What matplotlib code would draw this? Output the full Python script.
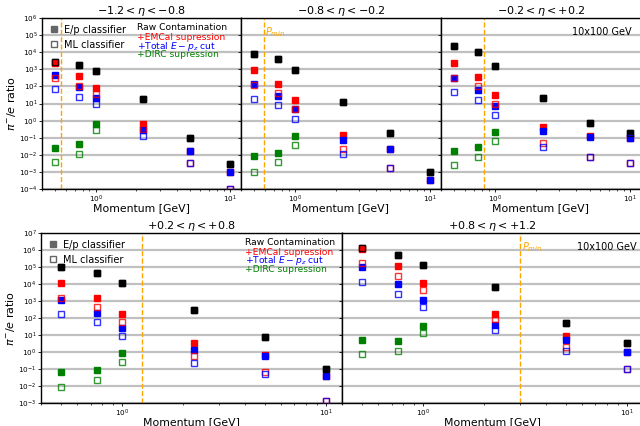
import numpy as np
import matplotlib
matplotlib.use("Agg")
import matplotlib.pyplot as plt
from matplotlib.lines import Line2D

nan = np.nan
momentum = [0.5, 0.75, 1.0, 2.25, 5.0, 10.0]

titles = [r"$-1.2 < \eta < -0.8$", r"$-0.8 < \eta < -0.2$", r"$-0.2 < \eta < +0.2$",
          r"$+0.2 < \eta < +0.8$", r"$+0.8 < \eta < +1.2$"]
p_min = [0.55, 0.59, 0.83, 1.25, 3.0]

raw = [[2800, 1900, 800, 19, 0.1, 0.0028],
       [7600, 4100, 870, 11.5, 0.195, 0.001],
       [24000, 10500, 1650, 22, 0.69, 0.2],
       [1.0e5, 4.4e4, 1.15e4, 282, 7.3, 0.1],
       [1.3e6, 5.4e5, 1.25e5, 6300, 51, 3.4]]

emcal_ep = [[2400, 400, 76, 0.66, 0.017, 0.00096],
            [870, 145, 16, 0.14, 0.0205, 3.4e-4],
            [2300, 370, 33, 0.43, 0.12, 0.095],
            [1.1e4, 1500, 178, 3.4, 0.7, 0.037],
            [1.2e6, 1.15e5, 1.15e4, 178, 8.7, 1.05]]

total_ep = [[460, 95, 22, 0.30, 0.0166, 0.00096],
            [143, 27, 4.5, 0.076, 0.0205, 3.4e-4],
            [310, 60, 7.6, 0.24, 0.11, 0.095],
            [1150, 187, 27, 1.26, 0.58, 0.037],
            [1.0e5, 1.05e4, 1200, 37, 4.9, 1.05]]

dirc_ep = [[0.026, 0.041, 0.66, nan, nan, nan],
           [0.008, 0.012, 0.12, nan, nan, nan],
           [0.017, 0.027, 0.22, nan, nan, nan],
           [0.063, 0.083, 0.83, nan, nan, nan],
           [5.4, 4.5, 35, nan, nan, nan]]

emcal_ml = [[320, 105, 34, 0.34, 0.0034, 1.05e-4],
            [115, 43, 4.8, 0.021, 0.0018, nan],
            [320, 110, 9.6, 0.049, 0.0072, 0.0032],
            [1500, 450, 56, 0.56, 0.069, 0.0014],
            [1.7e5, 2.8e4, 4600, 87, 2.1, 0.105]]

total_ml = [[69, 25, 9.1, 0.13, 0.0034, 1.05e-4],
            [19.5, 8.3, 1.3, 0.0115, 0.0018, nan],
            [47, 17, 2.1, 0.028, 0.0072, 0.0032],
            [174, 56, 8.7, 0.22, 0.053, 0.0014],
            [1.4e4, 2600, 470, 19, 1.1, 0.105]]

dirc_ml = [[0.0037, 0.0105, 0.27, nan, nan, nan],
           [0.001, 0.0036, 0.037, nan, nan, nan],
           [0.0025, 0.0073, 0.063, nan, nan, nan],
           [0.0091, 0.023, 0.27, nan, nan, nan],
           [0.72, 1.1, 14, nan, nan, nan]]

fig = plt.figure(figsize=(6.4, 4.26), dpi=100)
W, H = 640.0, 426.0

def make_ax(x0, y0, x1, y1):
    return fig.add_axes([x0 / W, 1 - y1 / H, (x1 - x0) / W, (y1 - y0) / H])

axes = [make_ax(42, 18, 241, 189), make_ax(241, 18, 441, 189), make_ax(441, 18, 641, 189),
        make_ax(41, 233, 342, 403), make_ax(342, 233, 643, 403)]
ylims = [(1e-4, 1e6)] * 3 + [(1e-3, 1e7)] * 2

ms = 3.8
for i, ax in enumerate(axes):
    ax.set_xscale("log")
    ax.set_yscale("log")
    ax.set_xlim(0.4, 12)
    ax.set_ylim(*ylims[i])
    lo, hi = np.log10(ylims[i])
    ax.set_yticks([10.0 ** k for k in range(int(lo), int(hi) + 1)])
    ax.yaxis.set_minor_locator(matplotlib.ticker.NullLocator())
    ax.grid(True, axis="y", which="major", color="#c0c0c0", linewidth=1.6, zorder=0)
    ax.set_axisbelow(True)
    ax.tick_params(labelsize=5.2, length=2.2, width=0.6, pad=1.0)
    ax.tick_params(which="minor", length=1.4, width=0.5)
    for s in ax.spines.values():
        s.set_linewidth(1.0)
    ax.set_title(titles[i], fontsize=8, pad=2.5)
    ax.set_xlabel("Momentum [GeV]", fontsize=7.8)
    ax.xaxis.set_label_coords(0.5, -0.082)
    if i in (0, 3):
        ax.set_ylabel(r"$\pi^{-}/e$ ratio", fontsize=8, labelpad=1)
    else:
        ax.tick_params(labelleft=False)
    ax.axvline(p_min[i], color="orange", linestyle="--", linewidth=1.0, zorder=1)

    for data, c in [(raw, "black"), (emcal_ep, "red"), (total_ep, "blue"), (dirc_ep, "green")]:
        ax.plot(momentum, data[i], "s", color=c, ms=ms, linestyle="none", zorder=3)
    for data, c in [(raw, "black"), (emcal_ml, "red"), (total_ml, "blue"), (dirc_ml, "green")]:
        ax.plot(momentum, data[i], "s", mfc="none", mec=c, mew=1.0, ms=ms, linestyle="none",
                alpha=0.8, zorder=4)

# legends and labels
handles = [Line2D([], [], marker="s", color="0.4", linestyle="none", ms=4),
           Line2D([], [], marker="s", mfc="none", mec="0.4", linestyle="none", ms=4)]
for ax, tx in [(axes[0], 0.477), (axes[3], 0.678)]:
    ax.legend(handles, ["E/p classifier", "ML classifier"], loc="upper left", frameon=False,
              fontsize=7, handlelength=1.0, handletextpad=0.6, borderaxespad=0.3,
              labelspacing=0.5)
    for yy, t, c in [(0.945, "Raw Contamination", "black"),
                     (0.888, "+EMCal supression", "red"),
                     (0.836, r"+Total $E-p_z$ cut", "blue"),
                     (0.787, "+DIRC supression", "green")]:
        ax.text(tx, yy, t, color=c, fontsize=6.6, transform=ax.transAxes, va="center", ha="left")

for ax, xx in [(axes[2], 0.955), (axes[4], 0.98)]:
    ax.text(xx, 0.918, "10x100 GeV", fontsize=7, transform=ax.transAxes, ha="right", va="center")

for i in (1, 4):
    ax = axes[i]
    ax.text(p_min[i] * 1.02, 10 ** (np.log10(ylims[i][1]) - 0.8), r"$P_{min}$", color="orange",
            fontsize=7, ha="left", va="center")

fig.savefig("out.png", dpi=100)
